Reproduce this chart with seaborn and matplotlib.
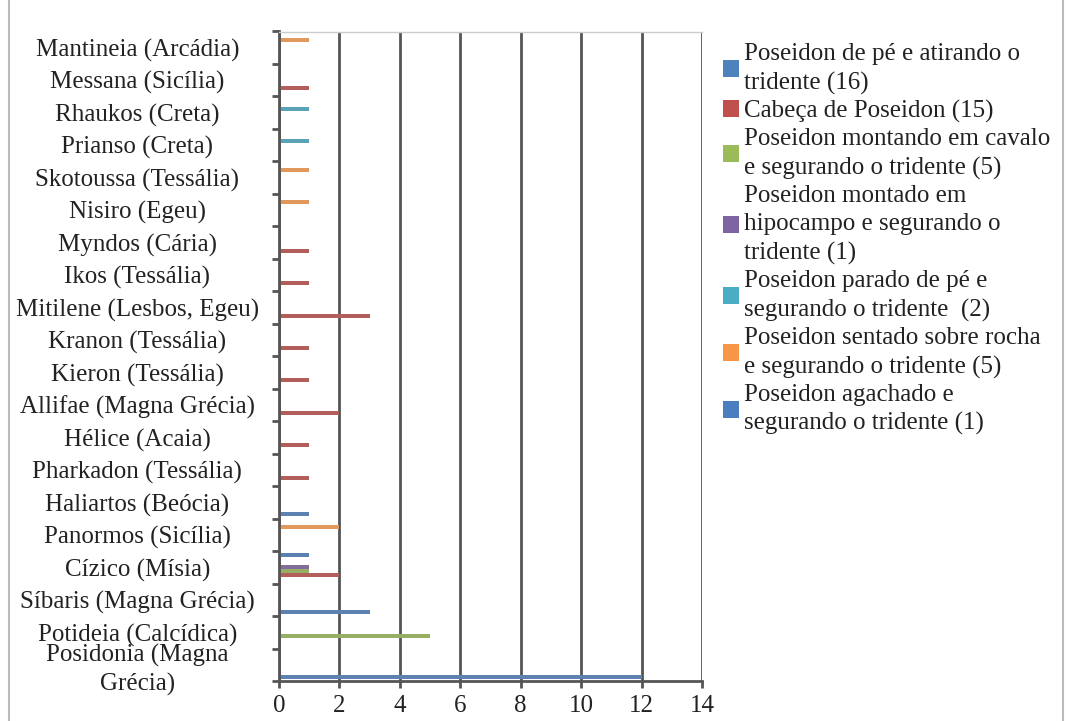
import pandas as pd
import numpy as np
import matplotlib.pyplot as plt
import matplotlib.patches as mpatches
import seaborn as sns

# categories, top to bottom as in the chart
cidades = ['Mantineia (Arcádia)', 'Messana (Sicília)', 'Rhaukos (Creta)', 'Prianso (Creta)',
           'Skotoussa (Tessália)', 'Nisiro (Egeu)', 'Myndos (Cária)', 'Ikos (Tessália)',
           'Mitilene (Lesbos, Egeu)', 'Kranon (Tessália)', 'Kieron (Tessália)',
           'Allifae (Magna Grécia)', 'Hélice (Acaia)', 'Pharkadon (Tessália)',
           'Haliartos (Beócia)', 'Panormos (Sicília)', 'Cízico (Mísia)',
           'Síbaris (Magna Grécia)', 'Potideia (Calcídica)', 'Posidonia (Magna\nGrécia)']

series_labels = ['Poseidon de pé e atirando o\ntridente (16)',
                 'Cabeça de Poseidon (15)',
                 'Poseidon montando em cavalo\ne segurando o tridente (5)',
                 'Poseidon montado em\nhipocampo e segurando o\ntridente (1)',
                 'Poseidon parado de pé e\nsegurando o tridente  (2)',
                 'Poseidon sentado sobre rocha\ne segurando o tridente (5)',
                 'Poseidon agachado e\nsegurando o tridente (1)']

de_pe_atirando = [0, 0, 0, 0, 0, 0, 0, 0, 0, 0, 0, 0, 0, 0, 1, 0, 0, 3, 0, 12]
cabeca = [0, 1, 0, 0, 0, 0, 1, 1, 3, 1, 1, 2, 1, 1, 0, 0, 2, 0, 0, 0]
cavalo = [0, 0, 0, 0, 0, 0, 0, 0, 0, 0, 0, 0, 0, 0, 0, 0, 1, 0, 5, 0]
hipocampo = [0, 0, 0, 0, 0, 0, 0, 0, 0, 0, 0, 0, 0, 0, 0, 0, 1, 0, 0, 0]
parado = [0, 0, 1, 1, 0, 0, 0, 0, 0, 0, 0, 0, 0, 0, 0, 0, 0, 0, 0, 0]
sentado = [1, 0, 0, 0, 1, 1, 0, 0, 0, 0, 0, 0, 0, 0, 0, 2, 0, 0, 0, 0]
agachado = [0, 0, 0, 0, 0, 0, 0, 0, 0, 0, 0, 0, 0, 0, 0, 0, 1, 0, 0, 0]

cores = ['#4F81BD', '#C0504D', '#9BBB59', '#8064A2', '#4BACC6', '#F79646', '#4A7EBF']

all_series = [de_pe_atirando, cabeca, cavalo, hipocampo, parado, sentado, agachado]
rows = []
for lab, vals in zip(series_labels, all_series):
    for c, v in zip(cidades, vals):
        rows.append({'cidade': c, 'tipo': lab, 'n': v})
df = pd.DataFrame(rows)

sns.set_style('white')
plt.rcParams['font.family'] = ['Liberation Serif', 'DejaVu Serif']
fs = 18

fig = plt.figure(figsize=(10.66, 7.21), dpi=100)
ax = fig.add_axes([279 / 1066, 1 - 681 / 721, (702 - 279) / 1066, (681 - 31.5) / 721])

# reversed hue order so the first series sits at the bottom of each band (Excel style)
sns.barplot(data=df, y='cidade', x='n', hue='tipo', order=cidades,
            hue_order=series_labels[::-1], palette=dict(zip(series_labels, cores)),
            orient='h', width=0.86, linewidth=0, legend=False, ax=ax)

ax.set_xlim(0, 14)
ax.set_xticks(np.arange(0, 15, 2))
ax.xaxis.grid(True, color='#555555', linewidth=2)
ax.set_axisbelow(True)
ax.set_xlabel('')
ax.set_ylabel('')

ax.set_yticks(range(len(cidades)))
ax.set_yticklabels(cidades, ha='center', fontsize=fs, color='#222222')
for t in ax.get_yticklabels():
    t.set_linespacing(1.3)
ax.set_yticks(np.arange(-0.5, len(cidades), 1), minor=True)
ax.tick_params(axis='y', which='major', length=0, pad=102)
ax.tick_params(axis='y', which='minor', length=5, width=2, color='#555555', left=True)
ax.tick_params(axis='x', which='major', length=5, width=2, color='#555555', bottom=True,
               labelsize=fs, labelcolor='#222222', pad=5)

for s in ['left', 'bottom']:
    ax.spines[s].set_color('#555555')
    ax.spines[s].set_linewidth(2)
ax.spines['top'].set_color('#cccccc')
ax.spines['top'].set_linewidth(1)
ax.spines['right'].set_visible(False)

handles = [mpatches.Patch(facecolor=c, edgecolor='none') for c in cores]
leg = fig.legend(handles, series_labels, loc='upper left',
                 bbox_to_anchor=(723 / 1066, 1 - 43 / 721),
                 frameon=False, fontsize=fs, handlelength=0.65, handleheight=0.65,
                 handletextpad=0.2, labelspacing=0.2, borderaxespad=0, borderpad=0,
                 labelcolor='#222222')
for t in leg.get_texts():
    t.set_linespacing(1.38)

fig.add_artist(plt.Rectangle((9 / 1066, -0.05), (1063 - 9) / 1066, 1.2,
                             transform=fig.transFigure, fill=False,
                             edgecolor='#bbbbbb', linewidth=1.5))

plt.savefig('out.png', dpi=100)
